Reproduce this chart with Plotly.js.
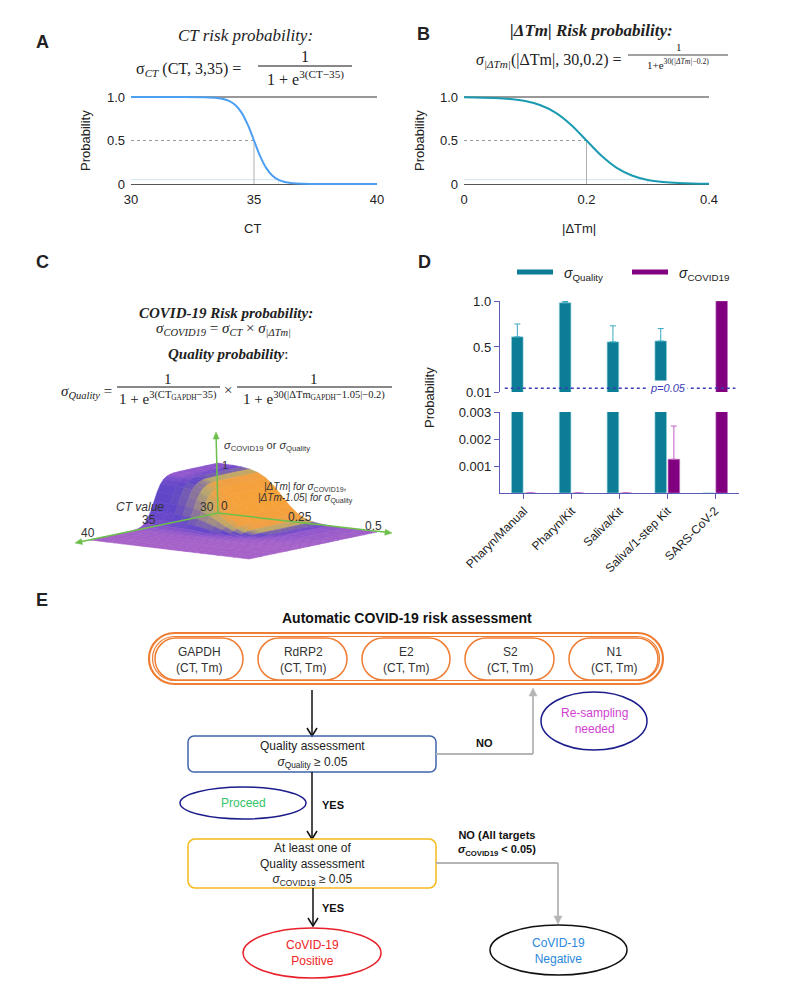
<!DOCTYPE html>
<html><head><meta charset="utf-8">
<script src="https://cdn.plot.ly/plotly-3.0.1.min.js"></script>
<style>html,body{margin:0;padding:0;background:#fff}#chart{width:792px;height:989px}</style>
</head><body><div id="chart"></div>
<script>
// ---------------- data ----------------
const ctGrid = [30,31,32,33,33.5,33.75,34,34.25,34.5,34.75,35,35.25,35.5,35.75,36,36.25,36.5,37,38,39,40];
const ctProb = [1,1,1,0.997,0.989,0.977,0.953,0.905,0.818,0.679,0.5,0.321,0.182,0.095,0.047,0.023,0.011,0.003,0,0,0];
const tmGrid = [0,0.05,0.075,0.1,0.125,0.15,0.175,0.2,0.225,0.25,0.275,0.3,0.325,0.35,0.4,0.45,0.5];
const tmProb = [0.998,0.989,0.977,0.953,0.905,0.818,0.679,0.5,0.321,0.182,0.095,0.047,0.023,0.011,0.002,0.001,0];
const refProb = [0.5, 0.05];
const refCT = [35, 36];
const refTm = [0.2, 0.3];
const ctTicks = [30,35,40];
const tmTicks = [0,0.2,0.4];
const probTicks = [0,0.5,1];
const probTickText = ['0','0.5','1.0'];

const sampleCats = ['Pharyn/Manual','Pharyn/Kit','Saliva/Kit','Saliva/1-step Kit','SARS-CoV-2'];
const qualityMean = [0.61,0.98,0.555,0.565,0];
const qualityErr  = [0.14,0.015,0.175,0.135,0];
const covidMean   = [0,0,0,0.00125,1.0];
const covidErr    = [0,0,0,0.00123,0];
const pThreshold = 0.05;
const dTopTicks = [0.01,0.5,1.0];
const dTopText = ['0.01','0.5','1.0'];
const dBotTicks = [0.001,0.002,0.003];

const targets = ['GAPDH','RdRP2','E2','S2','N1'];

// ---------------- helpers ----------------
const W=792, H=989;
const X = p => p/W, Y = p => 1 - p/H;
function domX(p0,v0,p1,v1,r){const b=(p1-p0)/(v1-v0);return [X(p0+b*(r[0]-v0)),X(p0+b*(r[1]-v0))];}
function domY(p0,v0,p1,v1,r){const b=(p1-p0)/(v1-v0);return [Y(p0+b*(r[0]-v0)),Y(p0+b*(r[1]-v0))];}
const SERIF = 'Liberation Serif, Times New Roman, serif';
const SANS = 'Liberation Sans, Arial, sans-serif';
const ann = [];
const shapes = [];
function T(px,py,text,o){o=o||{};ann.push({xref:'paper',yref:'paper',x:X(px),y:Y(py),text:text,showarrow:false,
  xanchor:o.xa||'center',yanchor:o.ya||'middle',textangle:o.angle||0,align:o.align||'center',
  bgcolor:o.bg,borderpad:o.bp||0,
  font:{family:o.family||SANS,size:o.size||12,color:o.color||'#222'}});}
const P = (x,y)=>X(x).toFixed(5)+','+Y(y).toFixed(5);
function Line(x0,y0,x1,y1,color,w,dash){shapes.push({type:'line',xref:'paper',yref:'paper',x0:X(x0),y0:Y(y0),x1:X(x1),y1:Y(y1),
  line:{color:color,width:w||1,dash:dash||'solid'},layer:'above'});}
// arrow from tail (tx,ty) to head (hx,hy); open=true -> V head
function Arrow(hx,hy,tx,ty,color,open,w,len,hw){
  const dx=hx-tx, dy=hy-ty, d=Math.hypot(dx,dy), ux=dx/d, uy=dy/d, nx=-uy, ny=ux;
  len=len||7; hw=hw||3.5;
  const bx=hx-ux*len, by=hy-uy*len;
  if(open){
    Line(tx,ty,hx,hy,color,w);
    shapes.push({type:'path',xref:'paper',yref:'paper',layer:'above',line:{color:color,width:w},
      path:'M'+P(bx+nx*hw,by+ny*hw)+' L'+P(hx,hy)+' L'+P(bx-nx*hw,by-ny*hw)});
  } else {
    Line(tx,ty,bx+ux*1,by+uy*1,color,w);
    shapes.push({type:'path',xref:'paper',yref:'paper',layer:'above',line:{color:color,width:0.5},fillcolor:color,
      path:'M'+P(hx,hy)+' L'+P(bx+nx*hw,by+ny*hw)+' L'+P(bx-nx*hw,by-ny*hw)+' Z'});
  }
}
function Ell(x0,y0,x1,y1,color,w){shapes.push({type:'circle',xref:'paper',yref:'paper',x0:X(x0),y0:Y(y1),x1:X(x1),y1:Y(y0),
  line:{color:color,width:w||1.5},layer:'above'});}
function RR(x0,y0,x1,y1,r,color,w){
  const k=0.5523;
  const d='M'+P(x0+r,y0)+' L'+P(x1-r,y0)+' C'+P(x1-r+k*r,y0)+' '+P(x1,y0+r-k*r)+' '+P(x1,y0+r)+
   ' L'+P(x1,y1-r)+' C'+P(x1,y1-r+k*r)+' '+P(x1-r+k*r,y1)+' '+P(x1-r,y1)+
   ' L'+P(x0+r,y1)+' C'+P(x0+r-k*r,y1)+' '+P(x0,y1-r+k*r)+' '+P(x0,y1-r)+
   ' L'+P(x0,y0+r)+' C'+P(x0,y0+r-k*r)+' '+P(x0+r-k*r,y0)+' '+P(x0+r,y0)+' Z';
  shapes.push({type:'path',xref:'paper',yref:'paper',path:d,line:{color:color,width:w||1.5},layer:'above'});}

const data = [];
// ---------------- Panel A ----------------
const rA=[30,40], rAy=[-0.03,1.03];
const lineAB = (x,y,color,w,dash,ax,ay,shape) => data.push({x:x,y:y,xaxis:ax,yaxis:ay,mode:'lines',hoverinfo:'skip',
  line:{color:color,width:w,dash:dash||'solid',shape:shape||'linear',smoothing:1}});
lineAB([ctTicks[0],ctTicks[2]],[1,1],'#333',1,null,'x','y');
lineAB([ctTicks[0],refCT[1]],[refProb[1],refProb[1]],'#cfe6f2',1,null,'x','y');
lineAB([refCT[1],refCT[1]],[0,refProb[1]],'#d6e6ee',1,null,'x','y');
lineAB([ctTicks[0],refCT[0]],[refProb[0],refProb[0]],'#9a9a9a',1,'dot','x','y');
lineAB([refCT[0],refCT[0]],[0,refProb[0]],'#b0b0b0',1,null,'x','y');
lineAB(ctGrid,ctProb,'#4d9ff2',2,null,'x','y','spline');
// ---------------- Panel B ----------------
lineAB([tmTicks[0],tmTicks[2]],[1,1],'#333',1,null,'x2','y2');
lineAB([tmTicks[0],refTm[1]],[refProb[1],refProb[1]],'#cfe6f2',1,null,'x2','y2');
lineAB([refTm[1],refTm[1]],[0,refProb[1]],'#d6e6ee',1,null,'x2','y2');
lineAB([tmTicks[0],refTm[0]],[refProb[0],refProb[0]],'#9a9a9a',1,'dot','x2','y2');
lineAB([refTm[0],refTm[0]],[0,refProb[0]],'#b0b0b0',1,null,'x2','y2');
lineAB(tmGrid,tmProb,'#1a9bb2',2,null,'x2','y2','spline');

// ---------------- Panel D ----------------
const TEAL='#0b7d95', PURP='#800080';
const zeros = sampleCats.map(()=>0);
data.push({type:'bar',x:sampleCats,y:qualityMean,xaxis:'x3',yaxis:'y3',name:'σQuality',offsetgroup:'q',
  marker:{color:TEAL,line:{color:'#8fd0dd',width:0.6}},
  error_y:{type:'data',symmetric:false,array:qualityErr,arrayminus:zeros,color:'#3aa8c2',thickness:1,width:3}});
data.push({type:'bar',x:sampleCats,y:covidMean,xaxis:'x3',yaxis:'y3',name:'σCOVID19',offsetgroup:'c',
  marker:{color:PURP,line:{color:'#c070c0',width:0.6}}});
data.push({type:'bar',x:sampleCats,y:qualityMean,xaxis:'x4',yaxis:'y4',offsetgroup:'q',
  marker:{color:TEAL,line:{color:'#8fd0dd',width:0.6}}});
data.push({type:'bar',x:sampleCats,y:covidMean,xaxis:'x4',yaxis:'y4',offsetgroup:'c',
  marker:{color:PURP,line:{color:'#c070c0',width:0.6}},
  error_y:{type:'data',symmetric:false,array:covidErr,arrayminus:zeros,color:'#c060c0',thickness:1,width:3}});

// ---------------- Panel C : surface sigma_CT x sigma_dTm, drawn as projected facets ----------------
const zSurf = tmProb.map(t => ctProb.map(c => t*c));
const nR = tmGrid.length, nC = ctGrid.length;
const gC=[], gT=[]; let mC=0, mT=0;
for(let i=0;i<nR;i++){gC.push([]);gT.push([]);
  for(let j=0;j<nC;j++){
    const j0=Math.max(0,j-1), j1=Math.min(nC-1,j+1), i0=Math.max(0,i-1), i1=Math.min(nR-1,i+1);
    const a=Math.abs(zSurf[i][j1]-zSurf[i][j0])/(ctGrid[j1]-ctGrid[j0])*10;
    const b=Math.abs(zSurf[i1][j]-zSurf[i0][j])/(tmGrid[i1]-tmGrid[i0])*0.5;
    gC[i].push(a); gT[i].push(b); mC=Math.max(mC,a); mT=Math.max(mT,b);}}
const sRaw = zSurf.map((row,i)=>row.map((z,j)=>{
  const a=gC[i][j]/mC, b=gT[i][j]/mT, m=Math.pow(Math.min(1,1.5*Math.max(a,b)),0.6);
  return m*(0.32+0.68*b/(a+b+1e-9));}));
const sColor = sRaw.map((row,i)=>row.map((v,j)=>{let s=0,n=0;
  for(let di=-1;di<=1;di++)for(let dj=-1;dj<=1;dj++){const ii=i+di,jj=j+dj;
    if(ii>=0&&ii<nR&&jj>=0&&jj<nC){s+=sRaw[ii][jj];n++;}}return s/n;}));
const cScale=[[0,[166,98,200]],[0.18,[142,86,205]],[0.34,[96,70,200]],[0.58,[186,168,108]],[0.78,[240,160,68]],[1,[246,162,58]]];
function cmap(v){v=Math.max(0,Math.min(1,v));for(let k=1;k<cScale.length;k++){if(v<=cScale[k][0]){
  const a=cScale[k-1],b=cScale[k],t=(v-a[0])/(b[0]-a[0]);
  return 'rgb('+a[1].map((c,q)=>Math.round(c+(b[1][q]-c)*t)).join(',')+')';}}return 'rgb(246,162,58)';}
// oblique view of the (CT, |dTm|, sigma) box
const proj = (ct,dt,z)=>[218+(ct-30)*-12.8+dt*318, 513+(ct-30)*2.7+dt*38-z*50];
const facets=[];
for(let i=0;i<nR-1;i++)for(let j=0;j<nC-1;j++){
  const cs=[[i,j],[i,j+1],[i+1,j+1],[i+1,j]];
  let depth=0,col=0;const xs=[],ys=[];
  cs.forEach(([a,b])=>{const p=proj(ctGrid[b],tmGrid[a],zSurf[a][b]);xs.push(p[0]);ys.push(p[1]);
    depth+=(ctGrid[b]-30)/10*1.07*0.79+tmGrid[a]/0.5*0.59+zSurf[a][b]*0.26*0.158;col+=sColor[a][b];});
  xs.push(xs[0]);ys.push(ys[0]);facets.push({xs,ys,depth,col:cmap(col/4)});}
facets.sort((p,q)=>p.depth-q.depth);
facets.forEach(f=>data.push({x:f.xs,y:f.ys,xaxis:'x5',yaxis:'y5',mode:'lines',fill:'toself',fillcolor:f.col,
  line:{color:f.col,width:0.6},hoverinfo:'skip'}));

// ---------------- text & shapes ----------------
T(42,42,'<b>A</b>',{size:18}); T(423,34,'<b>B</b>',{size:18});
T(42,262,'<b>C</b>',{size:18}); T(424,262,'<b>D</b>',{size:18}); T(42,600,'<b>E</b>',{size:18});
// Panel A texts
T(245,35,'<i>CT risk probability:</i>',{family:SERIF,size:17});
T(242,70,'σ<sub><i>CT</i></sub> (CT, 3,35) =',{family:SERIF,size:16,xa:'right'});
T(305,56,'1',{family:SERIF,size:16});
Line(258,66,352,66,'#111',1);
T(305,78,'1 + e<sup>3(CT−35)</sup>',{family:SERIF,size:16});
T(85,141,'Probability',{size:13,angle:-90});
T(253,228,'CT',{size:13});
// Panel B texts
T(591,30,'<b><i>|ΔTm| Risk probability:</i></b>',{family:SERIF,size:17});
T(623,60,'<i>σ</i><sub><i>|ΔTm|</i></sub>(|ΔTm|, 30,0.2) =',{family:SERIF,size:16,xa:'right'});
T(679,47,'1',{family:SERIF,size:11});
Line(628,55,728,55,'#111',0.8);
T(678,64,'1+e<sup>30(<i>|ΔTm|</i>−0.2)</sup>',{family:SERIF,size:11});
T(419,141,'Probability',{size:13,angle:-90});
T(579,228,'|ΔTm|',{size:13});
// Panel C texts
T(226,313,'<b><i>COVID-19 Risk probability:</i></b>',{family:SERIF,size:15});
T(223,329,'<i>σ<sub>COVID19</sub></i> = <i>σ<sub>CT</sub></i> × <i>σ<sub>|ΔTm|</sub></i>',{family:SERIF,size:15});
T(228,354,'<b><i>Quality probability</i></b>:',{family:SERIF,size:15});
T(113,392,'<i>σ<sub>Quality</sub></i> =',{family:SERIF,size:15,xa:'right'});
T(168,379,'1',{family:SERIF,size:15});
Line(117,387,220,387,'#111',1);
T(168,398,'1 + e<sup>3(CT<sub>GAPDH</sub>−35)</sup>',{family:SERIF,size:15});
T(228,390,'×',{family:SERIF,size:15});
T(314,379,'1',{family:SERIF,size:15});
Line(237,387,392,387,'#111',1);
T(314,398,'1 + e<sup>30(|ΔTm<sub>GAPDH</sub>−1.05|−0.2)</sup>',{family:SERIF,size:15});
// 3D axes overlay
const GREEN='#6cbf4a';
Arrow(75,543,218,513,GREEN,false,1.5,7,3);
Arrow(392,533,218,513,GREEN,false,1.5,7,3);
Arrow(216,432,218,513,GREEN,false,1.5,7,3);
T(223,446,'<i>σ</i><sub>COVID19</sub> or <i>σ</i><sub>Quality</sub>',{size:11,xa:'left',color:'#333'});
T(221,465,'1',{size:11,xa:'left',color:'#333'});
T(263,487,'<i>|ΔTm| for σ</i><sub>COVID19</sub>,',{size:10,xa:'left',color:'#333'});
T(257,498,'<i>|ΔTm-1.05| for σ</i><sub>Quality</sub>',{size:10,xa:'left',color:'#333'});
T(140,507,'<i>CT value</i>',{size:12,color:'#333'});
T(215,507,'30',{size:12,xa:'right',color:'#333'});
T(224,506,'0',{size:12,color:'#333'});
T(149,520,'35',{size:12,color:'#333'});
T(88,533,'40',{size:12,color:'#333'});
T(300,517,'0.25',{size:12,color:'#333'});
T(373,526,'0.5',{size:12,color:'#333'});
// Panel D legend, texts
shapes.push({type:'line',xref:'paper',yref:'paper',x0:X(517),x1:X(553),y0:Y(272),y1:Y(272),line:{color:TEAL,width:5}});
shapes.push({type:'line',xref:'paper',yref:'paper',x0:X(632),x1:X(668),y0:Y(272),y1:Y(272),line:{color:PURP,width:5}});
T(563,274,'<i>σ</i><sub>Quality</sub>',{size:14,xa:'left'});
T(678,274,'<i>σ</i><sub>COVID19</sub>',{size:14,xa:'left'});
T(429,397,'Probability',{size:13,angle:-90});
shapes.push({type:'line',xref:'x3 domain',yref:'y3',x0:0.02,x1:0.985,y0:pThreshold,y1:pThreshold,line:{color:'#3b3bb5',width:1.5,dash:'dot'},layer:'above'});
ann.push({xref:'x3 domain',yref:'y3',x:0.787,y:pThreshold,text:'<i>p=0.05</i>',showarrow:false,bgcolor:'#fff',borderpad:1,
  font:{family:SANS,size:11,color:'#3b3bb5'}});

// ---------------- Panel E flowchart ----------------
const OR='#ef7d33', GRAY='#b5b5b5';
T(407,618,'<b>Automatic COVID-19 risk assessment</b>',{size:14,color:'#111'});
RR(149,633,663,684,25.5,OR,2.2);
RR(152.5,636.5,659.5,680.5,22,OR,1.2);
const pillX=[[155,243],[258,347],[362,450],[465,554],[569,658]];
targets.forEach((t,i)=>{RR(pillX[i][0],638,pillX[i][1],680,21,OR,1.5);
  T((pillX[i][0]+pillX[i][1])/2,659.5,t+'<br>(CT, Tm)',{size:12,color:'#333'});});
Arrow(312,736,312,690,'#111',true,1.5,8,5);
RR(188,736,436,772,6,'#3f63a8',1.5);
T(312,754.5,'Quality assessment<br><i>σ</i><sub>Quality</sub> ≥ 0.05',{size:12,color:'#222'});
Line(436,754,533,754,GRAY,1.8);
Arrow(533,688,533,754,GRAY,false,1.8,8,4);
T(484,743,'<b>NO</b>',{size:11,color:'#111'});
Ell(541,692,647,750,'#1c1c8c',1.5);
T(594,721,'Re-sampling<br>needed',{size:12,color:'#d23fd2'});
Arrow(312,839,312,772,'#111',true,1.5,8,5);
Ell(180,787,306,819,'#1c1c8c',1.5);
T(243,803,'Proceed',{size:12,color:'#33c46a'});
T(333,805,'<b>YES</b>',{size:11,color:'#111'});
RR(188,839,436,888,7,'#f5b818',1.5);
T(312,864,'At least one of<br>Quality assessment<br><i>σ</i><sub>COVID19</sub> ≥ 0.05',{size:12,color:'#222'});
Line(436,863,558,863,GRAY,1.8);
Arrow(558,924,558,863,GRAY,false,1.8,8,4);
T(497,843,'<b>NO (All targets<br><i>σ</i><sub>COVID19</sub> < 0.05)</b>',{size:11,color:'#111'});
Arrow(313,926,313,888,'#111',true,1.5,8,5);
T(333,908,'<b>YES</b>',{size:11,color:'#111'});
Ell(243,928,381,978,'#e8202a',1.5);
T(312,953,'CoVID-19<br>Positive',{size:12,color:'#ee2424'});
Ell(490,925,627,975,'#111',1.5);
T(558,951,'CoVID-19<br>Negative',{size:12,color:'#2a88dc'});

// ---------------- layout ----------------
const tickF = {family:SANS,size:13,color:'#222'};
const layout = {
  width:W,height:H,margin:{l:0,r:0,t:0,b:0},paper_bgcolor:'#fff',plot_bgcolor:'rgba(0,0,0,0)',
  showlegend:false,font:{family:SANS,color:'#222'},
  barmode:'group',bargap:0.45,bargroupgap:0.12,
  xaxis:{domain:domX(131,30,377,40,rA),range:rA,anchor:'y',tickvals:ctTicks,showgrid:false,zeroline:false,showline:false,ticks:'',tickfont:tickF,ticklabelstandoff:3},
  yaxis:{domain:domY(184,0,97,1,rAy),range:rAy,anchor:'x',tickvals:probTicks,ticktext:probTickText,showgrid:false,zeroline:true,zerolinecolor:'#555',zerolinewidth:1,showline:false,ticks:'',tickfont:tickF,ticklabelstandoff:5},
  xaxis2:{domain:domX(464,0,709,0.4,[0,0.4]),range:[0,0.4],anchor:'y2',tickvals:tmTicks,showgrid:false,zeroline:false,showline:false,ticks:'',tickfont:tickF,ticklabelstandoff:3},
  yaxis2:{domain:domY(184,0,97,1,rAy),range:rAy,anchor:'x2',tickvals:probTicks,ticktext:probTickText,showgrid:false,zeroline:true,zerolinecolor:'#555',zerolinewidth:1,showline:false,ticks:'',tickfont:tickF,ticklabelstandoff:5},
  xaxis3:{domain:[X(500),X(739)],anchor:'y3',matches:'x4',showticklabels:false,showline:false,ticks:'',showgrid:false,zeroline:false},
  yaxis3:{domain:[Y(392),Y(301)],range:[0.01,1.0],anchor:'x3',tickvals:dTopTicks,ticktext:dTopText,showgrid:false,zeroline:false,
     showline:true,linecolor:'#5a5ab8',linewidth:1.2,ticks:'outside',ticklen:5,tickcolor:'#5a5ab8',tickfont:tickF},
  xaxis4:{domain:[X(500),X(739)],anchor:'y4',showline:true,linecolor:'#5a5ab8',linewidth:1.2,ticks:'outside',ticklen:5,tickcolor:'#5a5ab8',
     tickangle:-45,tickfont:{family:SANS,size:12,color:'#222'},showgrid:false,zeroline:false},
  yaxis4:{domain:[Y(493),Y(412)],range:[0,0.003],anchor:'x4',tickvals:dBotTicks,showgrid:false,zeroline:false,
     showline:true,linecolor:'#5a5ab8',linewidth:1.2,ticks:'outside',ticklen:5,tickcolor:'#5a5ab8',tickfont:tickF},
  xaxis5:{domain:[X(60),X(400)],range:[60,400],anchor:'y5',visible:false,showgrid:false,zeroline:false},
  yaxis5:{domain:[Y(580),Y(420)],range:[580,420],anchor:'x5',visible:false,showgrid:false,zeroline:false},
  shapes:shapes,annotations:ann
};
Plotly.newPlot('chart',data,layout,{displayModeBar:false,staticPlot:true});
</script></body></html>
